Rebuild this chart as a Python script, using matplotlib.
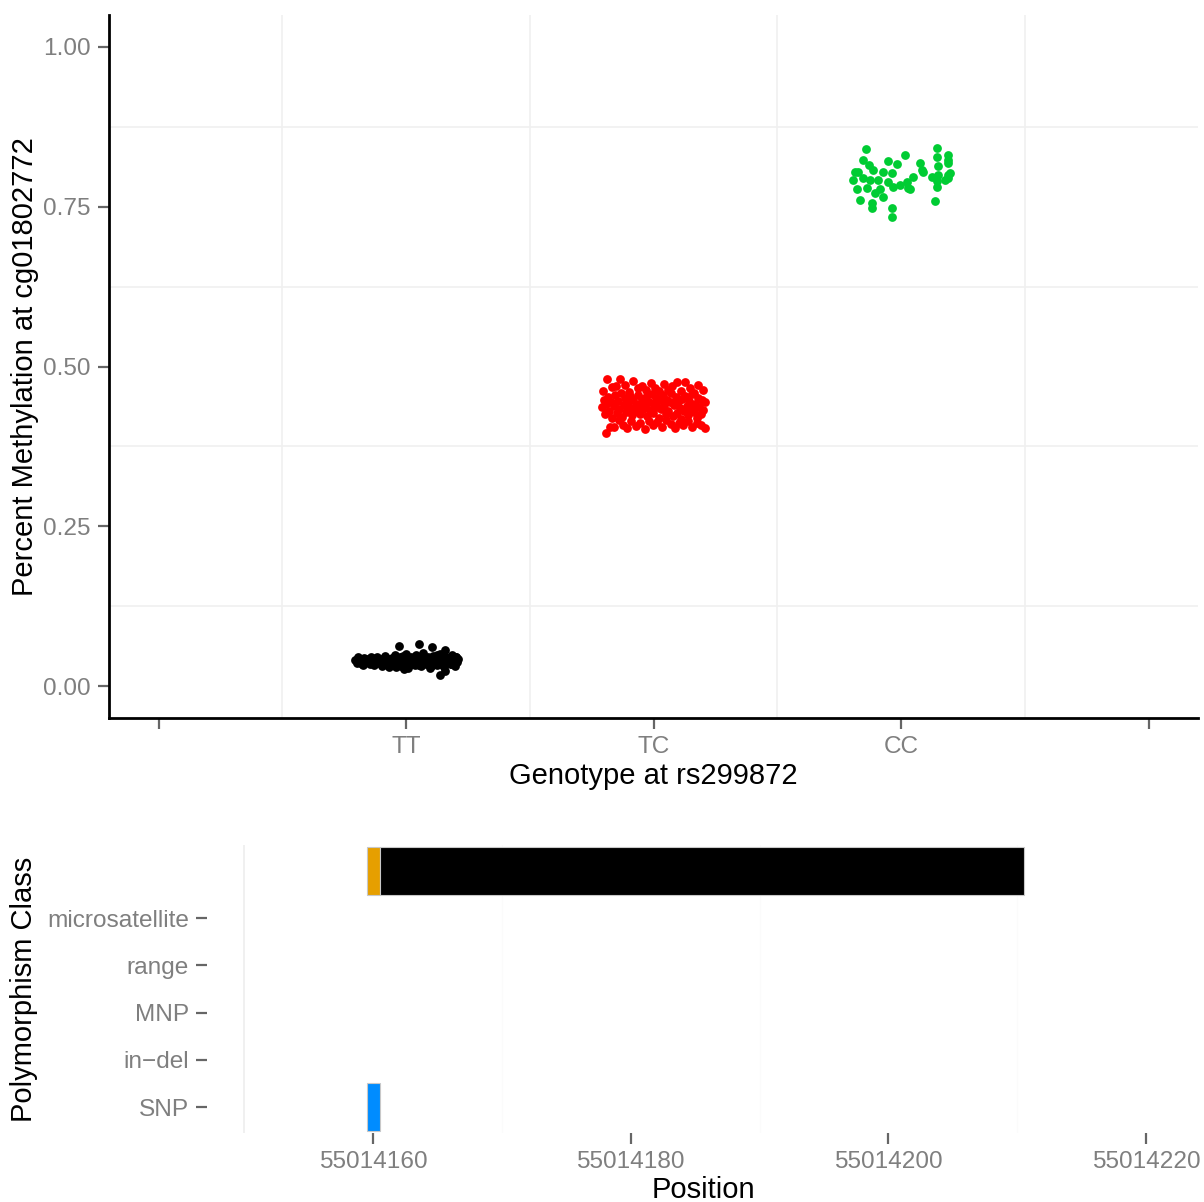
import matplotlib
matplotlib.use("Agg")
import matplotlib.pyplot as plt
import numpy as np

plt.rcParams['font.family'] = ['Liberation Sans', 'DejaVu Sans']

# methylation data
genotypes = ['TT', 'TC', 'CC']
geno_colors = ['#000000', '#FF0000', '#00CC33']

tt_jitter = [
    -0.205, -0.198, -0.191, -0.186, -0.180, -0.176, -0.170, -0.163, -0.158, -0.152,
    -0.147, -0.141, -0.137, -0.130, -0.126, -0.119, -0.114, -0.108, -0.101, -0.097,
    -0.092, -0.085, -0.080, -0.074, -0.069, -0.063, -0.058, -0.052, -0.046, -0.041,
    -0.036, -0.030, -0.024, -0.019, -0.013, -0.008, -0.002, 0.004, 0.009, 0.015,
    0.021, 0.026, 0.031, 0.037, 0.042, 0.048, 0.054, 0.059, 0.064, 0.070,
    0.075, 0.081, 0.087, 0.092, 0.097, 0.103, 0.108, 0.114, 0.119, 0.125,
    0.130, 0.136, 0.141, 0.147, 0.152, 0.158, 0.163, 0.169, 0.174, 0.180,
    0.185, 0.190, 0.196, 0.201, 0.206, 0.210,
    -0.195, -0.172, -0.149, -0.122, -0.095, -0.066, -0.039, -0.011, 0.018, 0.045,
    0.072, 0.099, 0.127, 0.155, 0.181, 0.204,
    -0.010, 0.052, 0.104, 0.156,
    -0.028, 0.053, 0.105, 0.158, 0.137]
tt_meth = [
    0.040, 0.036, 0.043, 0.038, 0.041, 0.035, 0.044, 0.039, 0.037, 0.042,
    0.034, 0.045, 0.040, 0.033, 0.041, 0.046, 0.038, 0.036, 0.043, 0.031,
    0.039, 0.047, 0.035, 0.042, 0.030, 0.040, 0.044, 0.037, 0.049, 0.034,
    0.041, 0.038, 0.045, 0.032, 0.043, 0.036, 0.050, 0.039, 0.029, 0.042,
    0.046, 0.035, 0.040, 0.033, 0.048, 0.037, 0.044, 0.031, 0.041, 0.052,
    0.038, 0.034, 0.045, 0.040, 0.028, 0.043, 0.047, 0.036, 0.042, 0.033,
    0.039, 0.050, 0.035, 0.044, 0.030, 0.041, 0.046, 0.037, 0.043, 0.034,
    0.048, 0.039, 0.032, 0.045, 0.038, 0.042,
    0.046, 0.033, 0.039, 0.044, 0.036, 0.041, 0.030, 0.047, 0.035, 0.043,
    0.038, 0.031, 0.049, 0.040, 0.034, 0.045,
    0.027, 0.033, 0.037, 0.024,
    0.062, 0.066, 0.061, 0.056, 0.017]

tc_jitter = [
    -0.208, -0.201, -0.196, -0.190, -0.183, -0.179, -0.172, -0.166, -0.161, -0.155,
    -0.149, -0.144, -0.138, -0.132, -0.127, -0.121, -0.115, -0.110, -0.104, -0.098,
    -0.093, -0.087, -0.081, -0.076, -0.070, -0.064, -0.059, -0.053, -0.047, -0.042,
    -0.036, -0.030, -0.025, -0.019, -0.013, -0.008, -0.002, 0.004, 0.009, 0.015,
    0.021, 0.026, 0.032, 0.038, 0.043, 0.049, 0.055, 0.060, 0.066, 0.072,
    0.077, 0.083, 0.089, 0.094, 0.100, 0.106, 0.111, 0.117, 0.123, 0.128,
    0.134, 0.140, 0.145, 0.151, 0.157, 0.162, 0.168, 0.174, 0.179, 0.185,
    0.191, 0.196, 0.202, 0.207,
    -0.204, -0.186, -0.169, -0.151, -0.134, -0.117, -0.099, -0.082, -0.064, -0.047,
    -0.029, -0.012, 0.006, 0.023, 0.041, 0.058, 0.076, 0.093, 0.111, 0.128,
    0.146, 0.163, 0.181, 0.198,
    -0.193, -0.176, -0.158, -0.141, -0.124, -0.106, -0.089, -0.071, -0.054, -0.036,
    -0.019, -0.001, 0.016, 0.034, 0.051, 0.069, 0.086, 0.104, 0.121, 0.139,
    0.156, 0.174, 0.191, 0.209]
tc_meth = [
    0.436, 0.448, 0.425, 0.441, 0.452, 0.430, 0.444, 0.419, 0.438, 0.455,
    0.427, 0.446, 0.433, 0.458, 0.421, 0.440, 0.450, 0.429, 0.443, 0.435,
    0.454, 0.424, 0.447, 0.437, 0.431, 0.456, 0.442, 0.426, 0.449, 0.434,
    0.439, 0.453, 0.423, 0.445, 0.432, 0.457, 0.428, 0.441, 0.451, 0.436,
    0.420, 0.447, 0.433, 0.455, 0.439, 0.425, 0.448, 0.430, 0.444, 0.458,
    0.422, 0.440, 0.452, 0.427, 0.445, 0.435, 0.418, 0.449, 0.431, 0.454,
    0.438, 0.424, 0.446, 0.433, 0.457, 0.429, 0.442, 0.420, 0.450, 0.436,
    0.426, 0.447, 0.432, 0.444,
    0.462, 0.481, 0.468, 0.470, 0.480, 0.471, 0.460, 0.478, 0.466, 0.470,
    0.463, 0.474, 0.467, 0.461, 0.472, 0.464, 0.469, 0.475, 0.462, 0.475,
    0.466, 0.459, 0.471, 0.464,
    0.396, 0.405, 0.405, 0.416, 0.409, 0.403, 0.414, 0.407, 0.411, 0.402,
    0.415, 0.408, 0.413, 0.406, 0.417, 0.410, 0.404, 0.412, 0.408, 0.415,
    0.406, 0.411, 0.409, 0.403]

cc_jitter = [
    -0.141, 0.145, 0.145, 0.190, 0.016, -0.053, -0.016, 0.077, -0.129, -0.174,
    -0.186, -0.113, -0.073, -0.036, 0.089, 0.125, 0.150, 0.190, 0.198, 0.178,
    0.048, 0.024, 0.036, -0.154, -0.125, -0.093, -0.053, -0.032, -0.137, -0.178,
    -0.085, -0.166, -0.117, -0.117, -0.036, -0.036, 0.137, 0.145, -0.105, -0.073,
    -0.004, -0.154, -0.194, 0.190, 0.190, 0.150, 0.085, 0.028, 0.190, 0.145]
cc_meth = [
    0.841, 0.842, 0.828, 0.831, 0.831, 0.822, 0.817, 0.819, 0.816, 0.805,
    0.805, 0.808, 0.805, 0.803, 0.805, 0.797, 0.813, 0.819, 0.803, 0.792,
    0.797, 0.789, 0.777, 0.795, 0.792, 0.792, 0.789, 0.781, 0.780, 0.777,
    0.777, 0.761, 0.756, 0.748, 0.748, 0.734, 0.759, 0.781, 0.772, 0.766,
    0.784, 0.823, 0.792, 0.823, 0.800, 0.800, 0.808, 0.780, 0.795, 0.790]

# polymorphism track
poly_classes = ['SNP', 'in\u2212del', 'MNP', 'range', 'microsatellite']
bar_start = [55014159.5, 55014159.5, 55014160.5]
bar_end = [55014160.5, 55014160.5, 55014210.5]
bar_row = [1, 6, 6]
bar_colors = ['#008CFF', '#E69F00', '#000000']
pos_ticks = [55014160, 55014180, 55014200, 55014220]

tick_grey = '#7F7F7F'
tick_mark = '#666666'

fig = plt.figure(figsize=(12.04, 12.02), dpi=100)

# top panel - methylation by genotype
ax = fig.add_axes([109/1204, 1 - 718/1202, 1089/1204, 703/1202])
groups = [(tt_jitter, tt_meth), (tc_jitter, tc_meth), (cc_jitter, cc_meth)]
for i, (jit, meth) in enumerate(groups):
    x = (i + 1) + np.array(jit)
    ax.scatter(x, meth, s=40, color=geno_colors[i], linewidths=0, zorder=3)

ax.set_xlim(-0.2, 4.2)
ax.set_ylim(-0.05, 1.05)
ax.set_xticks([0, 1, 2, 3, 4])
ax.set_xticklabels([''] + genotypes + [''])
ax.set_yticks([0, 0.25, 0.5, 0.75, 1.0])
ax.set_yticklabels(['0.00', '0.25', '0.50', '0.75', '1.00'])
for v in [0.5, 1.5, 2.5, 3.5]:
    ax.axvline(v, color='#F0F0F0', lw=1.2, zorder=0)
for v in [0.125, 0.375, 0.625, 0.875]:
    ax.axhline(v, color='#F0F0F0', lw=1.2, zorder=0)
for s in ['top', 'right']:
    ax.spines[s].set_visible(False)
for s in ['left', 'bottom']:
    ax.spines[s].set_linewidth(2.0)
ax.tick_params(axis='both', length=8, width=1.6, color=tick_mark,
               labelcolor=tick_grey, labelsize=17.6, pad=5)
ax.set_xlabel('Genotype at rs299872', fontsize=21)
ax.set_ylabel('Percent Methylation at cg01802772', fontsize=21)
ax.xaxis.set_label_coords(0.5, -0.063)
ax.yaxis.set_label_coords(-0.064, 0.5)

# bottom panel - polymorphism classes along position
bx = fig.add_axes([207/1204, 1 - 1133/1202, 993/1204, 288/1202])
bx.barh(bar_row, np.array(bar_end) - np.array(bar_start), left=bar_start,
        height=1.0, color=bar_colors, edgecolor='#C8C8C8', linewidth=0.8, zorder=3)
bx.set_xlim(55014147.1, 55014224.2)
bx.set_ylim(0.45, 6.55)
bx.set_yticks(range(1, len(poly_classes) + 1))
bx.set_yticklabels(poly_classes)
bx.set_xticks(pos_ticks)
bx.set_xticklabels([str(p) for p in pos_ticks])
bx.axvline(55014150, color='#EEEEEE', lw=1.2, zorder=0)
for v in [55014170, 55014190, 55014210]:
    bx.axvline(v, color='#FBFBFB', lw=1.0, zorder=0)
for s in bx.spines.values():
    s.set_visible(False)
bx.tick_params(axis='both', length=8, width=1.6, color=tick_mark,
               labelcolor=tick_grey, labelsize=17.6, pad=5)
bx.set_xlabel('Position', fontsize=21)
bx.set_ylabel('Polymorphism Class', fontsize=21)
bx.xaxis.set_label_coords(0.5, -0.15)
bx.yaxis.set_label_coords(-0.170, 0.5)

fig.savefig('out.png', dpi=100)
